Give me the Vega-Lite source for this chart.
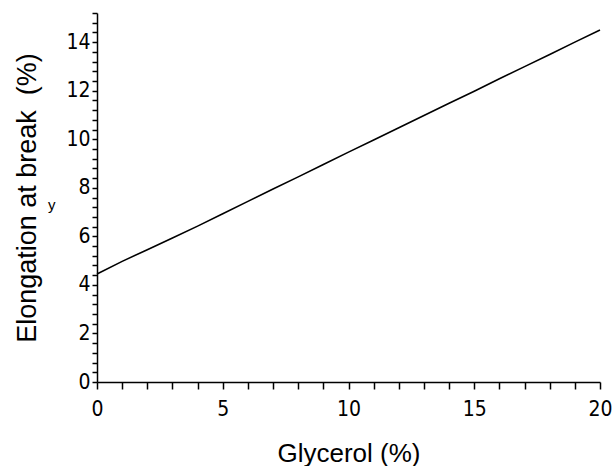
{
  "$schema": "https://vega.github.io/schema/vega-lite/v6.json",
  "width": 503,
  "height": 369,
  "autosize": {"type": "none"},
  "padding": {"left": 97, "top": 13, "right": 13, "bottom": 84},
  "background": "white",
  "config": {"view": {"stroke": null}},
  "encoding": {
    "x": {
      "field": "g", "type": "quantitative",
      "scale": {"domain": [0, 20], "nice": false, "zero": false},
      "axis": {
        "title": "Glycerol (%)",
        "values": [0,1,2,3,4,5,6,7,8,9,10,11,12,13,14,15,16,17,18,19,20],
        "format": "d",
        "labelExpr": "datum.value % 5 == 0 ? datum.label : ''",
        "labelOverlap": false,
        "grid": false,
        "domainColor": "black", "domainWidth": 1.5,
        "tickColor": "black", "tickWidth": 1.5, "tickSize": 7,
        "labelFont": "Liberation Sans Narrow, DejaVu Sans Condensed, Liberation Sans",
        "labelFontSize": 21, "labelColor": "black", "labelPadding": 9,
        "labelFlush": false,
        "titleFont": "Liberation Sans", "titleFontSize": 26, "titleFontWeight": "normal",
        "titleColor": "black", "titleY": 71, "titleBaseline": "middle"
      }
    },
    "y": {
      "field": "e", "type": "quantitative",
      "scale": {"domain": [0, 15.2], "nice": false, "zero": false},
      "axis": {
        "title": "Elongation at break\u00a0\u00a0(%)",
        "values": [0,0.4,0.8,1.2,1.6,2,2.4,2.8,3.2,3.6,4,4.4,4.8,5.2,5.6,6,6.4,6.8,7.2,7.6,8,8.4,8.8,9.2,9.6,10,10.4,10.8,11.2,11.6,12,12.4,12.8,13.2,13.6,14,14.4,14.8,15.2],
        "format": ".1f",
        "labelExpr": "(abs(round(datum.value) - datum.value) < 0.01 && round(datum.value) % 2 == 0) ? format(round(datum.value), 'd') : ''",
        "labelOverlap": false,
        "grid": false,
        "domainColor": "black", "domainWidth": 1.5,
        "tickColor": "black", "tickWidth": 1.5, "tickSize": 5,
        "labelFont": "Liberation Sans Narrow, DejaVu Sans Condensed, Liberation Sans",
        "labelFontSize": 21, "labelColor": "black", "labelPadding": 2,
        "labelFlush": false,
        "titleFont": "Liberation Sans", "titleFontSize": 27, "titleFontWeight": "normal",
        "titleColor": "black", "titleX": -70, "titleBaseline": "middle"
      }
    }
  },
  "layer": [
    {
      "data": {"values": [
        {"g": 0, "e": 4.45}, {"g": 1, "e": 4.97}, {"g": 2, "e": 5.45}, {"g": 3, "e": 5.93},
        {"g": 4, "e": 6.42}, {"g": 5, "e": 6.93}, {"g": 6, "e": 7.44}, {"g": 7, "e": 7.95},
        {"g": 8, "e": 8.45}, {"g": 9, "e": 8.96}, {"g": 10, "e": 9.47}, {"g": 11, "e": 9.97},
        {"g": 12, "e": 10.47}, {"g": 13, "e": 10.98}, {"g": 14, "e": 11.48}, {"g": 15, "e": 11.98},
        {"g": 16, "e": 12.49}, {"g": 17, "e": 12.99}, {"g": 18, "e": 13.49}, {"g": 19, "e": 14.0},
        {"g": 20, "e": 14.5}
      ]},
      "mark": {"type": "line", "color": "black", "strokeWidth": 1.6}
    },
    {
      "data": {"values": [{"g": -1.8, "e": 7.3, "t": "y"}]},
      "mark": {"type": "text", "font": "Liberation Sans", "fontSize": 15, "color": "black"},
      "encoding": {
        "text": {"field": "t"}
      }
    }
  ]
}
